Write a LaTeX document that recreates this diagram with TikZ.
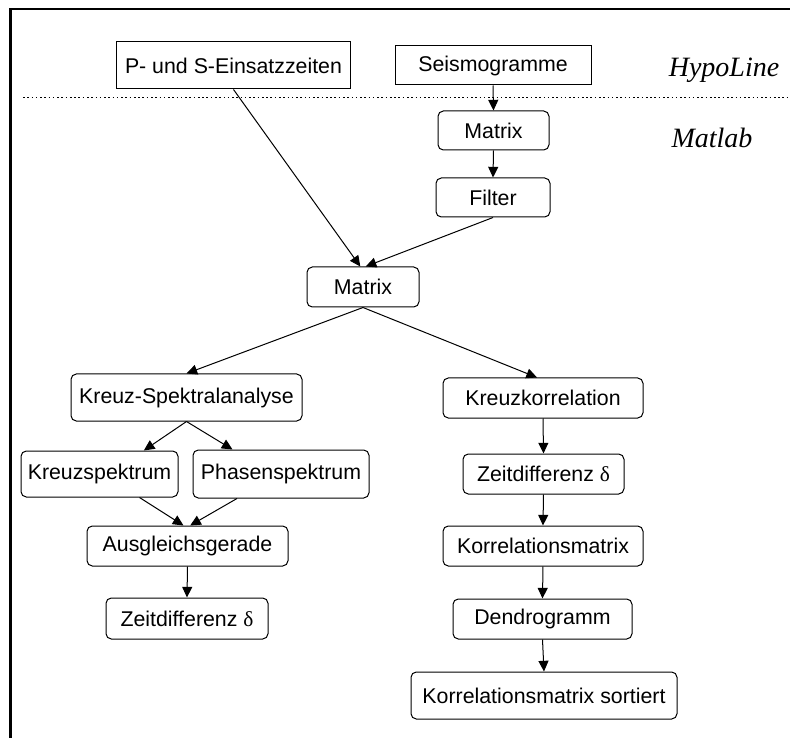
\documentclass[tikz,border=0pt]{standalone}
\usepackage{fontspec}
\setmainfont{Liberation Sans}
\newfontfamily\serifit{Liberation Serif}
\usetikzlibrary{arrows.meta}
\begin{document}
\begin{tikzpicture}[x=0.75pt,y=-0.75pt,
  every node/.style={font=\fontsize{16}{19}\selectfont, inner sep=0pt, line width=0.75pt},
  sqbox/.style={draw},
  rbox/.style={draw, rounded corners=4pt},
  arr/.style={line width=0.75pt, -{Triangle[length=8pt,width=7.5pt]}},
  lab/.style={font=\serifit\itshape\fontsize{21}{25}\selectfont}]
\useasboundingbox (0,0) rectangle (790,738);
% frame
\draw[line width=2pt] (10.5,738) -- (10.5,9) -- (790,9);
\draw[line width=1.2pt, dash pattern=on 1.2pt off 2pt] (23,97.5) -- (790,97.5);
% labels
\node[lab] (hypo) at (724,70) {HypoLine};
\node[lab] (matl) at (712,138) {Matlab};
% nodes
\node[sqbox, minimum width=175.5pt, minimum height=35.25pt] (psz) at (233.5,65.5) {P- und S-Einsatzzeiten};
\node[sqbox, minimum width=147pt, minimum height=29.25pt] (seis) at (493,65.5) {Seismogramme};
\node[rbox, minimum width=83.25pt, minimum height=29.25pt] (m1) at (493.5,130.5) {Matrix};
\node[rbox, minimum width=85.5pt, minimum height=29.25pt] (filt) at (493,197.5) {Filter};
\node[rbox, minimum width=84pt, minimum height=30pt] (m2) at (363,287) {Matrix};
\node[rbox, minimum width=173.25pt, minimum height=35.25pt] (ksa) at (186.5,397.5) {Kreuz-Spektralanalyse};
\node[rbox, minimum width=117.75pt, minimum height=34.5pt] (ks) at (99.5,474) {Kreuzspektrum};
\node[rbox, minimum width=132pt, minimum height=36pt] (ps) at (281,474) {Phasenspektrum};
\node[rbox, minimum width=150.75pt, minimum height=30pt] (ag) at (187.5,546) {Ausgleichsgerade};
\node[rbox, minimum width=121.5pt, minimum height=30.75pt] (zl) at (187,618.5) {Zeitdifferenz {\serifit δ}};
\node[rbox, minimum width=150pt, minimum height=30pt] (kk) at (543,398) {Kreuzkorrelation};
\node[rbox, minimum width=120.75pt, minimum height=30pt] (zr) at (543.5,474) {Zeitdifferenz {\serifit δ}};
\node[rbox, minimum width=150pt, minimum height=30pt] (km) at (543,546) {Korrelationsmatrix};
\node[rbox, minimum width=134.25pt, minimum height=30pt] (den) at (542.5,619) {Dendrogramm};
\node[rbox, minimum width=199.5pt, minimum height=35.25pt] (kms) at (544,695.5) {Korrelationsmatrix sortiert};
% connectors
\draw[arr] (seis.south) -- (m1.north);
\draw[arr] (m1.south) -- (filt.north);
\draw[arr] (psz.south) -- ([xshift=-2pt]m2.north);
\draw[arr] (filt.south) -- ([xshift=2pt]m2.north);
\draw[arr] (m2.south) -- (ksa.north);
\draw[arr] (m2.south) -- ([xshift=-4.5pt]kk.north);
\draw[arr] (ksa.south) -- ([xshift=-26pt]ks.north east);
\draw[arr] (ksa.south) -- ([xshift=30pt]ps.north west);
\draw[arr] ([xshift=30pt]ks.south) -- ([xshift=-3pt]ag.north);
\draw[arr] ([xshift=-33pt]ps.south) -- ([xshift=2pt]ag.north);
\draw[arr] (ag.south) -- (zl.north);
\draw[arr] (kk.south) -- (zr.north);
\draw[arr] (zr.south) -- (km.north);
\draw[arr] (km.south) -- (den.north);
\draw[arr] (den.south) -- (kms.north);
\end{tikzpicture}
\end{document}
